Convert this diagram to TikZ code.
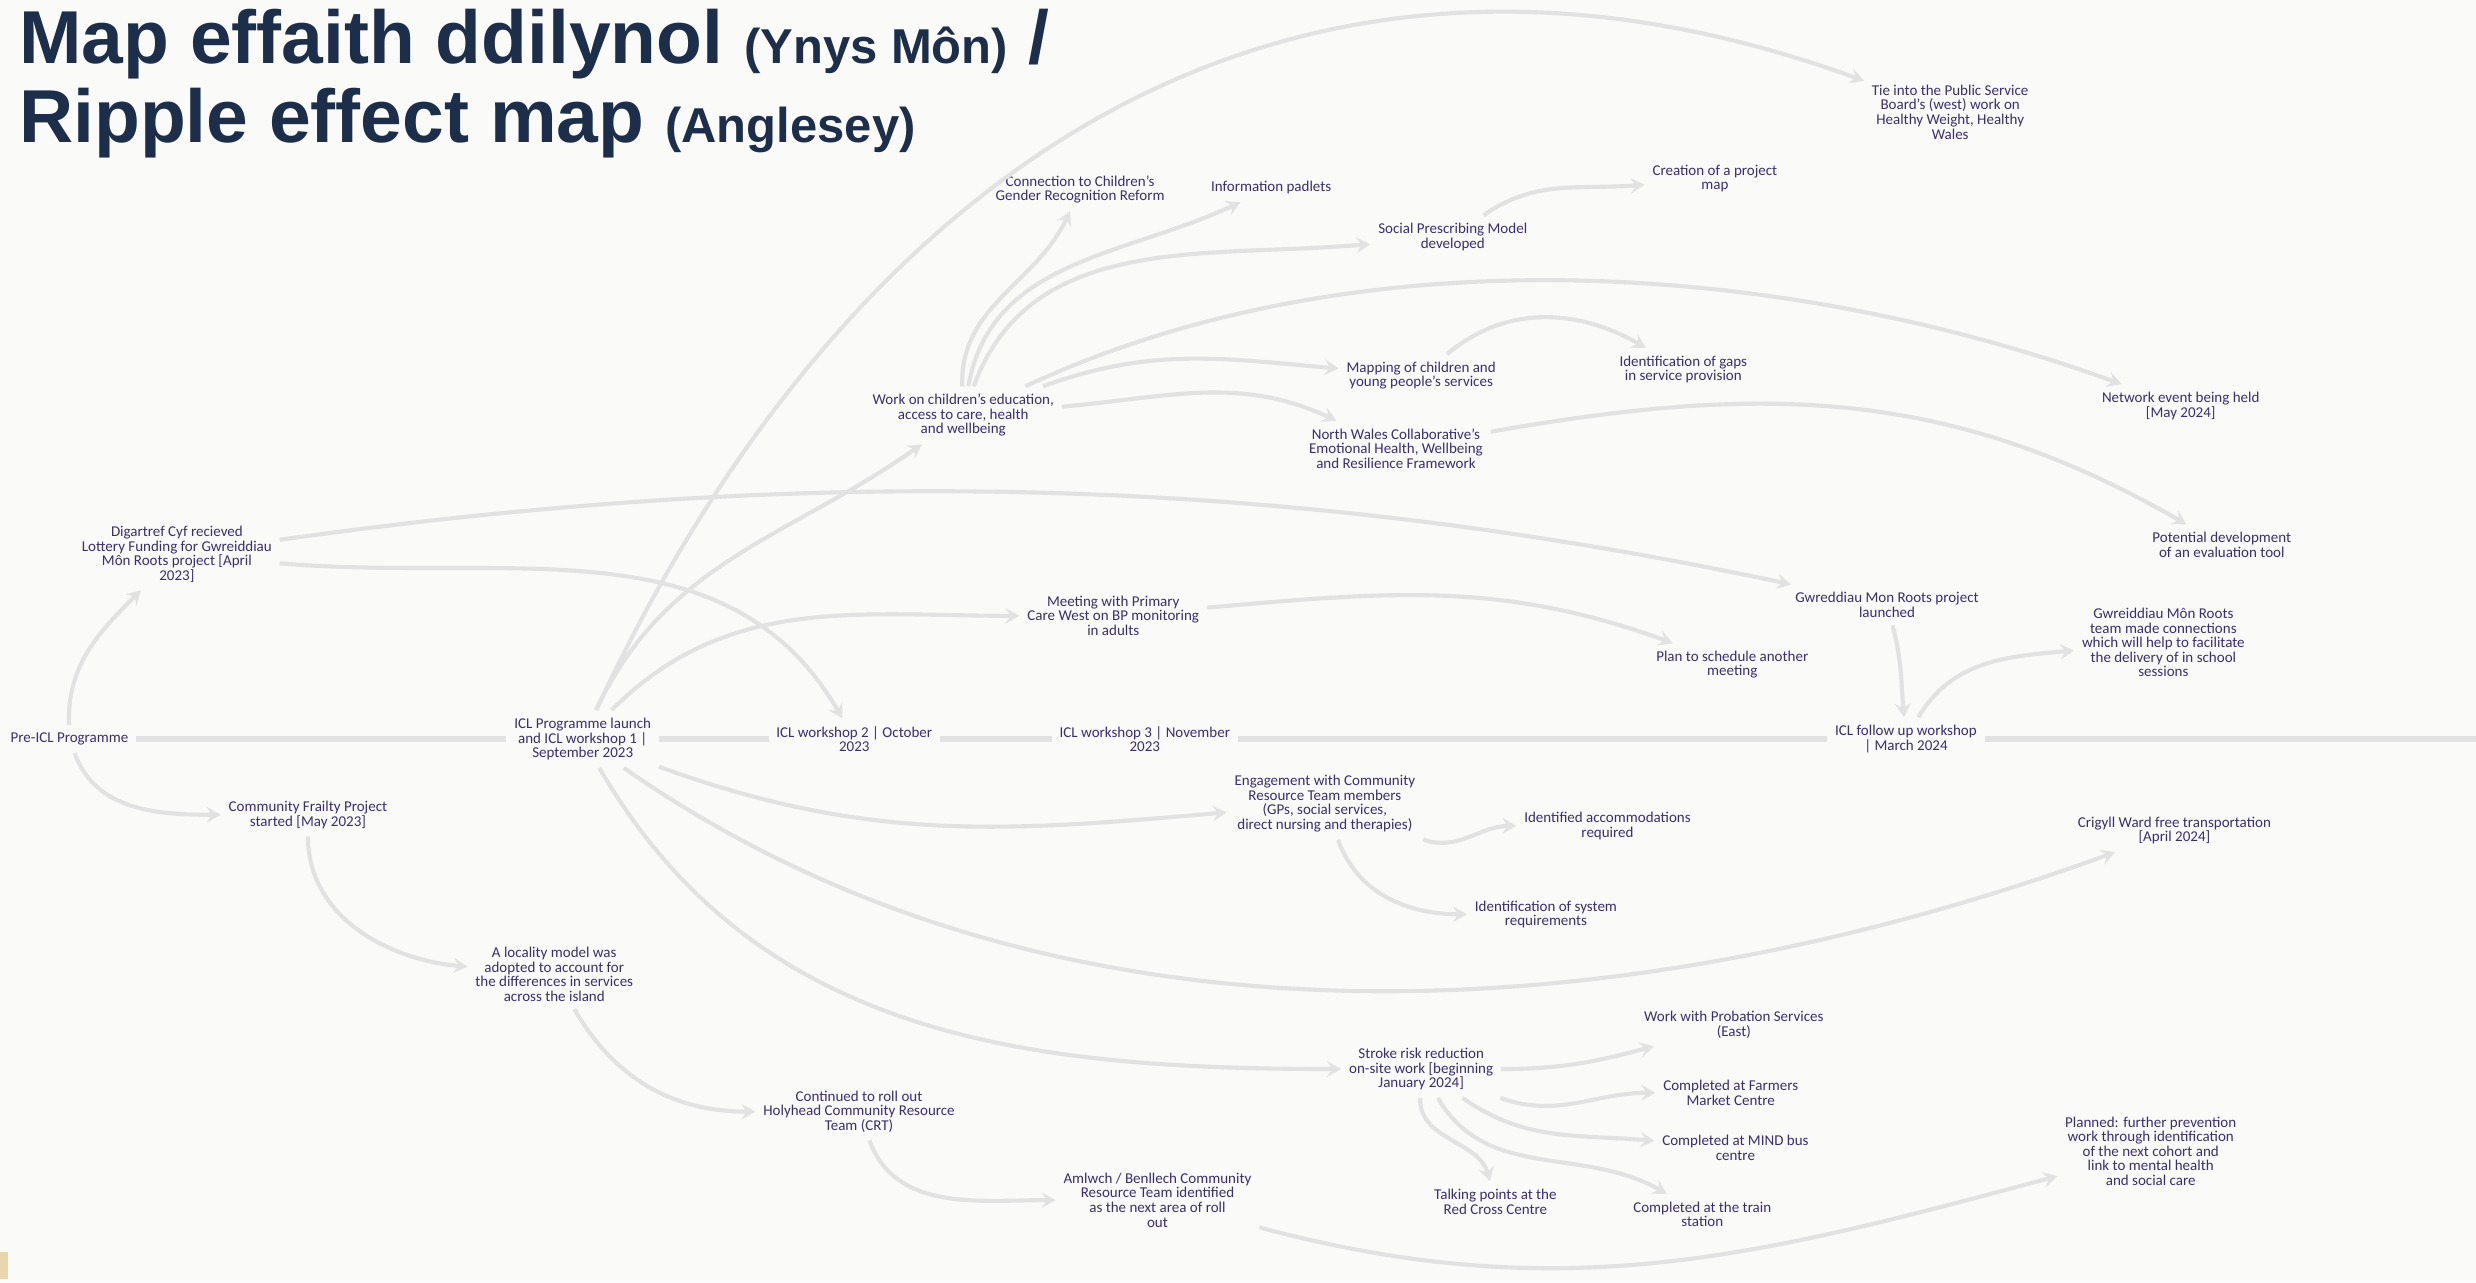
\documentclass[tikz,border=0pt]{standalone}
\usepackage{fontspec}
\setmainfont{Carlito}
\newfontfamily\headfont{Liberation Sans}
\usetikzlibrary{arrows.meta}
\definecolor{ink}{HTML}{3B2E6E}
\definecolor{head}{HTML}{1D2E4B}
\definecolor{edge}{HTML}{E2E2E2}
\definecolor{paper}{HTML}{FAFAF8}
\definecolor{tan}{HTML}{E8D7AE}
\newcommand{\subttl}[1]{{\fontsize{31}{31}\selectfont #1}}

\begin{document}
\begin{tikzpicture}[x=1pt, y=1pt,
    lbl/.style={text=ink, align=center, font=\fontsize{9.5}{9.2}\selectfont, inner sep=2pt, outer sep=3pt},
    ttl/.style={text=head, anchor=base west, inner sep=0pt, font=\headfont\bfseries\fontsize{47.5}{50}\selectfont},
    spine/.style={draw=edge, line width=3.5pt},
    arr/.style={draw=edge, line width=2.6pt, -{Stealth[length=9pt, width=10pt, inset=3.5pt]}}]
  \fill [paper] (0, 0) rectangle (1568, 812);
  \useasboundingbox (0, 0) rectangle (1568, 812);
  \fill [tan] (0, 2) rectangle (5, 19);

  % title
  \node (title1) at (12, 772) [ttl] {Map effaith ddilynol \subttl{(Ynys Môn)} /};
  \node (title2) at (12, 722) [ttl] {Ripple effect map \subttl{(Anglesey)}};

  % timeline
  \node (pre) at (44, 344) [lbl] {Pre-ICL Programme};
  \node (icl1) at (369, 344) [lbl] {ICL Programme launch\\and ICL workshop 1 |\\September 2023};
  \node (icl2) at (541, 344) [lbl] {ICL workshop 2 | October\\2023};
  \node (icl3) at (725, 344) [lbl] {ICL workshop 3 | November\\2023};
  \node (iclf) at (1207, 344) [lbl] {ICL follow up workshop\\| March 2024};
  \coordinate (rim) at (1568, 344);

  % left branch
  \node (dig) at (112, 461) [lbl] {Digartref Cyf recieved\\Lottery Funding for Gwreiddiau\\Môn Roots project [April\\2023]};
  \node (cfp) at (195, 296) [lbl] {Community Frailty Project\\started [May 2023]};
  \node (loc) at (351, 195) [lbl] {A locality model was\\adopted to account for\\the differences in services\\across the island};
  \node (crt) at (544, 108) [lbl] {Continued to roll out\\Holyhead Community Resource\\Team (CRT)};
  \node (aml) at (733, 52) [lbl] {Amlwch / Benllech Community\\Resource Team identified\\as the next area of roll\\out};
  \node (plnd) at (1362, 83) [lbl] {Planned: further prevention\\work through identification\\of the next cohort and\\link to mental health\\and social care};

  % children's work
  \node (work) at (610, 549) [lbl] {Work on children’s education,\\access to care, health\\and wellbeing};
  \node (conn) at (684, 692) [lbl] {Connection to Children’s\\Gender Recognition Reform};
  \node (pad) at (805, 693) [lbl] {Information padlets};
  \node (spm) at (920, 662) [lbl] {Social Prescribing Model\\developed};
  \node (proj) at (1086, 699) [lbl] {Creation of a project\\map};
  \node (tie) at (1235, 741) [lbl] {Tie into the Public Service\\Board’s (west) work on\\Healthy Weight, Healthy\\Wales};
  \node (mapc) at (900, 574) [lbl] {Mapping of children and\\young people’s services};
  \node (gaps) at (1066, 578) [lbl] {Identification of gaps\\in service provision};
  \node (nwc) at (884, 528) [lbl] {North Wales Collaborative’s\\Emotional Health, Wellbeing\\and Resilience Framework};
  \node (net) at (1381, 555) [lbl] {Network event being held\\{[May 2024]}};
  \node (eval) at (1407, 467) [lbl] {Potential development\\of an evaluation tool};
  \node (gmr) at (1195, 429) [lbl] {Gwreddiau Mon Roots project\\launched};
  \node (team) at (1370, 405) [lbl] {Gwreiddiau Môn Roots\\team made connections\\which will help to facilitate\\the delivery of in school\\sessions};

  % adult work
  \node (meet) at (705, 422) [lbl] {Meeting with Primary\\Care West on BP monitoring\\in adults};
  \node (plan) at (1097, 391) [lbl] {Plan to schedule another\\meeting};
  \node (eng) at (839, 303) [lbl] {Engagement with Community\\Resource Team members\\(GPs, social services,\\direct nursing and therapies)};
  \node (acc) at (1018, 289) [lbl] {Identified accommodations\\required};
  \node (sys) at (979, 233) [lbl] {Identification of system\\requirements};
  \node (cri) at (1377, 286) [lbl] {Crigyll Ward free transportation\\{[April 2024]}};
  \node (str) at (900, 135) [lbl] {Stroke risk reduction\\on-site work [beginning\\January 2024]};
  \node (prob) at (1098, 163) [lbl] {Work with Probation Services\\(East)};
  \node (farm) at (1096, 120) [lbl] {Completed at Farmers\\Market Centre};
  \node (mind) at (1099, 85) [lbl] {Completed at MIND bus\\centre};
  \node (red) at (947, 51) [lbl] {Talking points at the\\Red Cross Centre};
  \node (train) at (1078, 43) [lbl] {Completed at the train\\station};

  \draw [spine] (pre) -- (icl1) -- (icl2) -- (icl3) -- (iclf) -- (rim);

  \draw [arr] (pre) to [out=92, in=225] (dig);
  \draw [arr] (pre) to [out=-70, in=180] (cfp);
  \draw [arr] (cfp) to [out=-90, in=175] (loc);
  \draw [arr] (loc) to [out=-60, in=180] (crt);
  \draw [arr] (crt) to [out=-70, in=180] (aml);
  \draw [arr] (aml) to [out=-15, in=195] (plnd);
  \draw [arr] (dig) to [out=8, in=168, looseness=0.9] (gmr);
  \draw [arr] (dig) to [out=-5, in=120] (icl2);

  \draw [arr] (icl1) to [out=65, in=160, looseness=1.1] (tie);
  \draw [arr] (icl1) to [out=65, in=215] (work);
  \draw [arr] (icl1) to [out=45, in=180] (meet);
  \draw [arr] (icl1) to [out=-20, in=185] (eng);
  \draw [arr] (icl1) to [out=-35, in=200, looseness=0.9] (cri);
  \draw [arr] (icl1) to [out=-60, in=180] (str);

  \draw [arr] (work) to [out=92, in=245] (conn);
  \draw [arr] (work) to [out=80, in=205] (pad);
  \draw [arr] (work) to [out=70, in=185] (spm);
  \draw [arr] (work) to [out=25, in=160, looseness=0.85] (net);
  \draw [arr] (work) to [out=20, in=175] (mapc);
  \draw [arr] (work) to [out=5, in=155] (nwc);
  \draw [arr] (spm) to [out=35, in=185] (proj);
  \draw [arr] (mapc) to [out=40, in=150] (gaps);
  \draw [arr] (nwc) to [out=10, in=150] (eval);

  \draw [arr] (meet) to [out=5, in=160] (plan);
  \draw [arr] (gmr) to [out=-75, in=95] (iclf);
  \draw [arr] (iclf) to [out=60, in=185] (team);
  \draw [arr] (eng) to [out=-20, in=180] (acc);
  \draw [arr] (eng) to [out=-70, in=180] (sys);

  \draw [arr] (str) to [out=0, in=195] (prob);
  \draw [arr] (str) to [out=-20, in=180] (farm);
  \draw [arr] (str) to [out=-35, in=175] (mind);
  \draw [arr] (str) to [out=-92, in=105] (red);
  \draw [arr] (str) to [out=-60, in=150] (train);
\end{tikzpicture}
\end{document}
